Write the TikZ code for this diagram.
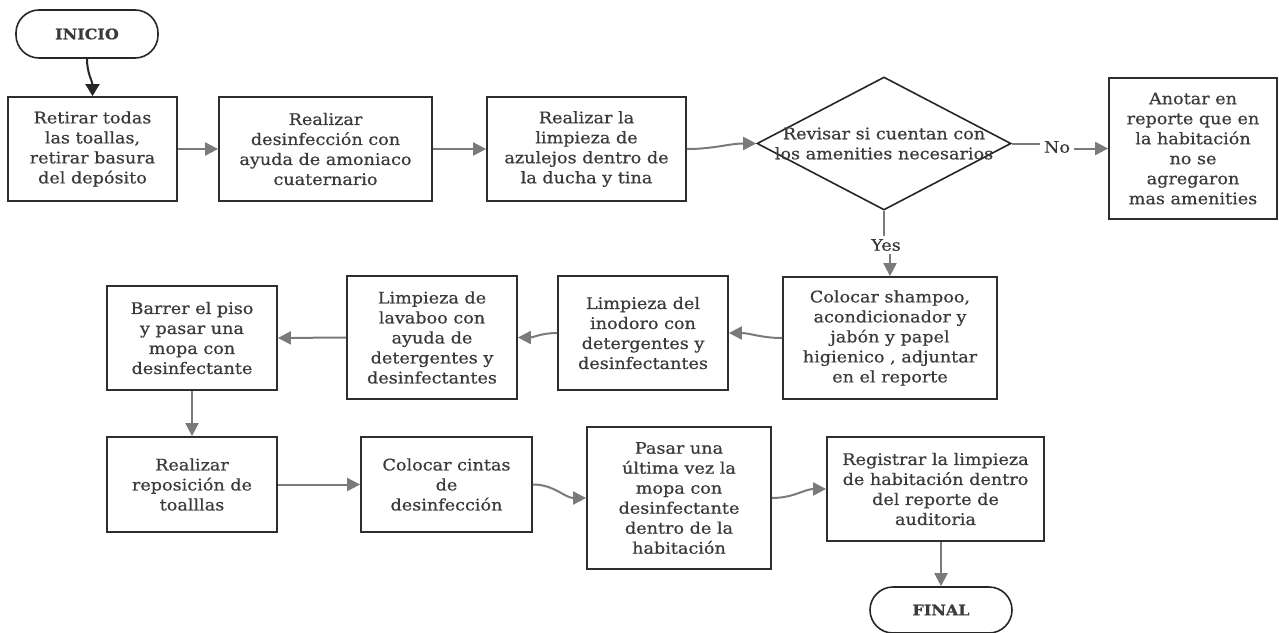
\documentclass[tikz,border=0pt]{standalone}
\usepackage{fontspec}
\setmainfont{DejaVu Serif}[FakeStretch=1.1,FakeBold=0.6]
\usetikzlibrary{shapes.geometric,arrows.meta}
\definecolor{txt}{HTML}{3A3A3A}
\definecolor{edge}{HTML}{2E2E2E}
\definecolor{arr}{HTML}{7A7A7A}
\begin{document}
\begin{tikzpicture}[x=1pt,y=-1pt,
  every node/.style={font=\fontsize{16}{20}\selectfont, text=txt},
  box/.style={draw=edge, line width=1.8pt, rectangle, align=center, inner sep=2pt},
  term/.style={draw=black!85, line width=1.6pt, rectangle, rounded corners=23pt, align=center, font=\fontsize{14.5}{16}\selectfont\bfseries},
  dec/.style={draw=black!85, line width=1.6pt, diamond, inner sep=0pt},
  flow/.style={draw=arr, line width=2pt, -{Triangle[length=13pt,width=13pt]}},
  plain/.style={draw=arr, line width=2pt}
]
\useasboundingbox (0,0) rectangle (1279,632);

\node[term, minimum width=142pt, minimum height=48pt] (ini) at (87,34) {INICIO};
\node[box, minimum width=169pt, minimum height=104pt] (b1) at (92.5,149) {Retirar todas\\las toallas,\\retirar basura\\del depósito};
\node[box, minimum width=213pt, minimum height=104pt] (b2) at (325.5,149) {Realizar\\desinfección con\\ayuda de amoniaco\\cuaternario};
\node[box, minimum width=199pt, minimum height=104pt] (b3) at (586.5,149) {Realizar la\\limpieza de\\azulejos dentro de\\la ducha y tina};
\node[dec, minimum width=254pt, minimum height=133pt] (d) at (884,143.5) {};
\node[align=center] (dt) at (884,143.5) {Revisar si cuentan con\\los amenities necesarios};
\node[box, minimum width=168pt, minimum height=141pt] (b5) at (1193,148.5) {Anotar en\\reporte que en\\la habitación\\no se\\agregaron\\mas amenities};
\node (no) at (1057,147) {No};
\node (yes) at (886,245) {Yes};

\node[box, minimum width=214pt, minimum height=122pt] (sh) at (890,338) {Colocar shampoo,\\acondicionador y\\jabón y papel\\higienico , adjuntar\\en el reporte};
\node[box, minimum width=170pt, minimum height=114pt] (ino) at (643,333) {Limpieza del\\inodoro con\\detergentes y\\desinfectantes};
\node[box, minimum width=170pt, minimum height=123pt] (lav) at (432,337.5) {Limpieza de\\lavaboo con\\ayuda de\\detergentes y\\desinfectantes};
\node[box, minimum width=170pt, minimum height=104pt] (bar) at (192,338) {Barrer el piso\\y pasar una\\mopa con\\desinfectante};

\node[box, minimum width=170pt, minimum height=95pt] (rep) at (192,484.5) {Realizar\\reposición de\\toalllas};
\node[box, minimum width=171pt, minimum height=95pt] (cin) at (446.5,484.5) {Colocar cintas\\de\\desinfección};
\node[box, minimum width=184pt, minimum height=142pt] (pas) at (679,498) {Pasar una\\última vez la\\mopa con\\desinfectante\\dentro de la\\habitación};
\node[box, minimum width=217pt, minimum height=104pt] (reg) at (935.5,489) {Registrar la limpieza\\de habitación dentro\\del reporte de\\auditoria};
\node[term, minimum width=142pt, minimum height=46pt] (fin) at (941,610) {FINAL};

\draw[line width=2pt, draw=black!85, -{Triangle[length=12pt,width=14pt]}] (ini.south) to[out=-90,in=90] (b1.north);
\draw[flow] (b1) -- (b2);
\draw[flow] (b2) -- (b3);
\draw[flow] (b3.east) to[out=0,in=180] (d.west);
\draw[plain] (d.east) -- (no.west |- d.east);
\draw[flow] (no.east |- b5.west) -- (b5.west);
\draw[plain] (d.south) -- (d.south |- yes.north);
\draw[flow] (yes.south -| sh.north) -- (sh.north);
\draw[flow] (sh.west) to[out=180,in=0] (ino.east);
\draw[flow] (ino.west) to[out=180,in=0] (lav.east);
\draw[flow] (lav.west) -- (bar.east);
\draw[flow] (bar.south) -- (rep.north);
\draw[flow] (rep.east) -- (cin.west);
\draw[flow] (cin.east) to[out=0,in=180] (pas.west);
\draw[flow] (pas.east) to[out=0,in=180] (reg.west);
\draw[flow] (reg.south -| fin.north) -- (fin.north);
\end{tikzpicture}
\end{document}
